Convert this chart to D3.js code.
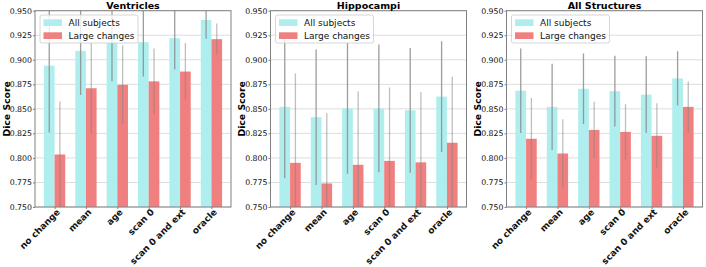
<!DOCTYPE html>
<html lang="en">
<head>
<meta charset="UTF-8">
<script src="https://d3js.org/d3.v7.min.js"></script>
<style>
  body { margin: 0; background: #fff; }
  text { font-family: "DejaVu Sans", sans-serif; }
</style>
</head>
<body>
<svg id="svg1" width="706" height="267"></svg>
<script>

const categories = ["no change", "mean", "age", "scan 0", "scan 0 and ext", "oracle"]
const panelTitles = ["Ventricles", "Hippocampi", "All Structures"]
const seriesNames = ["All subjects", "Large changes"]
const yTicks = [0.750, 0.775, 0.800, 0.825, 0.850, 0.875, 0.900, 0.925, 0.950]

// mean dice and std, per panel
const ventAll = [0.894, 0.909, 0.917, 0.918, 0.922, 0.9405]
const ventAllStd = [0.068, 0.045, 0.039, 0.035, 0.032, 0.019]
const ventLarge = [0.8035, 0.871, 0.8745, 0.878, 0.888, 0.921]
const ventLargeStd = [0.054, 0.046, 0.040, 0.0335, 0.029, 0.016]

const hippoAll = [0.852, 0.8415, 0.8505, 0.8505, 0.8485, 0.8625]
const hippoAllStd = [0.0727, 0.069, 0.0665, 0.065, 0.0635, 0.0565]
const hippoLarge = [0.795, 0.774, 0.793, 0.797, 0.7955, 0.8155]
const hippoLargeStd = [0.091, 0.0714, 0.075, 0.0747, 0.0717, 0.0673]

const structAll = [0.8685, 0.852, 0.8705, 0.868, 0.8645, 0.881]
const structAllStd = [0.043, 0.044, 0.036, 0.036, 0.039, 0.0277]
const structLarge = [0.8195, 0.8045, 0.8285, 0.8265, 0.8225, 0.852]
const structLargeStd = [0.0416, 0.035, 0.0287, 0.0282, 0.0333, 0.0258]

const panels = [
    {title: panelTitles[0], all: ventAll, allStd: ventAllStd, large: ventLarge, largeStd: ventLargeStd},
    {title: panelTitles[1], all: hippoAll, allStd: hippoAllStd, large: hippoLarge, largeStd: hippoLargeStd},
    {title: panelTitles[2], all: structAll, allStd: structAllStd, large: structLarge, largeStd: structLargeStd}
]

const colors = ["#afeeee", "#f08080"]
const lefts = [35, 270.5, 506.5]
const plotW = 196
const plotTop = 10.7, plotBottom = 207
const barW = 0.34
const margin = 0.05 * (categories.length - 1 + 2 * barW)

let svg = d3.select("#svg1")

let y = d3.scaleLinear().domain([0.75, 0.95]).range([plotBottom, plotTop])

panels.forEach(function(p, k) {
    let x = d3.scaleLinear()
        .domain([-barW - margin, categories.length - 1 + barW + margin])
        .range([lefts[k], lefts[k] + plotW])

    let g = svg.append("g")

    g.append("clipPath").attr("id", "clip" + k)
        .append("rect")
        .attr("x", lefts[k]).attr("y", plotTop)
        .attr("width", plotW).attr("height", plotBottom - plotTop)

    // grid
    g.append("g").selectAll("line").data(yTicks).enter().append("line")
        .attr("x1", lefts[k]).attr("x2", lefts[k] + plotW)
        .attr("y1", d => y(d)).attr("y2", d => y(d))
        .attr("stroke", "#dddddd").attr("stroke-width", 1)

    let plot = g.append("g").attr("clip-path", `url(#clip${k})`)

    let series = [
        {vals: p.all, std: p.allStd, off: -barW / 2, color: colors[0], err: "#8c8c8c", errOp: 0.85},
        {vals: p.large, std: p.largeStd, off: barW / 2, color: colors[1], err: "#808080", errOp: 0.5}
    ]

    series.forEach(function(s) {
        plot.append("g").selectAll("rect").data(s.vals).enter().append("rect")
            .attr("x", (d, i) => x(i + s.off - barW / 2))
            .attr("width", x(barW) - x(0))
            .attr("y", d => y(d))
            .attr("height", d => y(0.75) - y(d))
            .attr("fill", s.color)
    })
    series.forEach(function(s) {
        plot.append("g").selectAll("line").data(s.vals).enter().append("line")
            .attr("x1", (d, i) => x(i + s.off)).attr("x2", (d, i) => x(i + s.off))
            .attr("y1", (d, i) => y(d - s.std[i]))
            .attr("y2", (d, i) => y(d + s.std[i]))
            .attr("stroke", s.err).attr("stroke-opacity", s.errOp)
            .attr("stroke-width", 1.3)
    })

    // frame
    g.append("rect")
        .attr("x", lefts[k]).attr("y", plotTop)
        .attr("width", plotW).attr("height", plotBottom - plotTop)
        .attr("fill", "none").attr("stroke", "#808080").attr("stroke-width", 1)

    // y axis
    let yAxis = g.append("g")
        .attr("transform", `translate(${lefts[k]},0)`)
        .call(d3.axisLeft(y).tickValues(yTicks).tickFormat(d3.format(".3f")).tickSize(2).tickPadding(1))
    yAxis.select(".domain").remove()
    yAxis.selectAll("line").attr("stroke", "#808080")
    yAxis.selectAll("text").attr("font-size", "7.8px").attr("fill", "#111")
        .attr("font-family", "DejaVu Sans")

    // x axis
    let xAxis = g.append("g")
        .attr("transform", `translate(0,${plotBottom})`)
        .call(d3.axisBottom(x).tickValues(d3.range(categories.length)).tickFormat(i => categories[i]).tickSize(2))
    xAxis.select(".domain").remove()
    xAxis.selectAll("line").attr("stroke", "#808080")
    xAxis.selectAll("text")
        .attr("font-size", "9px").attr("font-weight", "bold").attr("fill", "#111")
        .attr("font-family", "DejaVu Sans")
        .attr("text-anchor", "end")
        .attr("dy", "0.6em").attr("y", 2.5).attr("x", 0)
        .attr("transform", "rotate(-45)")

    // title
    g.append("text")
        .attr("x", lefts[k] + plotW / 2).attr("y", plotTop - 2)
        .attr("text-anchor", "middle")
        .attr("font-size", "9.5px").attr("font-weight", "bold")
        .text(p.title)

    // y label
    g.append("text")
        .attr("transform", `translate(${lefts[k] - 25.5},${(plotTop + plotBottom) / 2}) rotate(-90)`)
        .attr("text-anchor", "middle")
        .attr("font-size", "9.3px").attr("font-weight", "bold")
        .text("Dice Score")

    // legend
    let lg = g.append("g").attr("transform", `translate(${lefts[k] + 5},15)`)
    lg.append("rect").attr("width", 98).attr("height", 28).attr("rx", 2)
        .attr("fill", "white").attr("fill-opacity", 0.8)
        .attr("stroke", "#cccccc").attr("stroke-width", 0.8)
    seriesNames.forEach(function(name, j) {
        lg.append("rect").attr("x", 3.5).attr("y", 4.3 + j * 13)
            .attr("width", 18.5).attr("height", 6.7).attr("fill", colors[j])
        lg.append("text").attr("x", 28.5).attr("y", 7.7 + j * 13)
            .attr("dy", "0.35em").attr("font-size", "9px").attr("fill", "#111")
            .text(name)
    })
})

</script>
</body>
</html>
